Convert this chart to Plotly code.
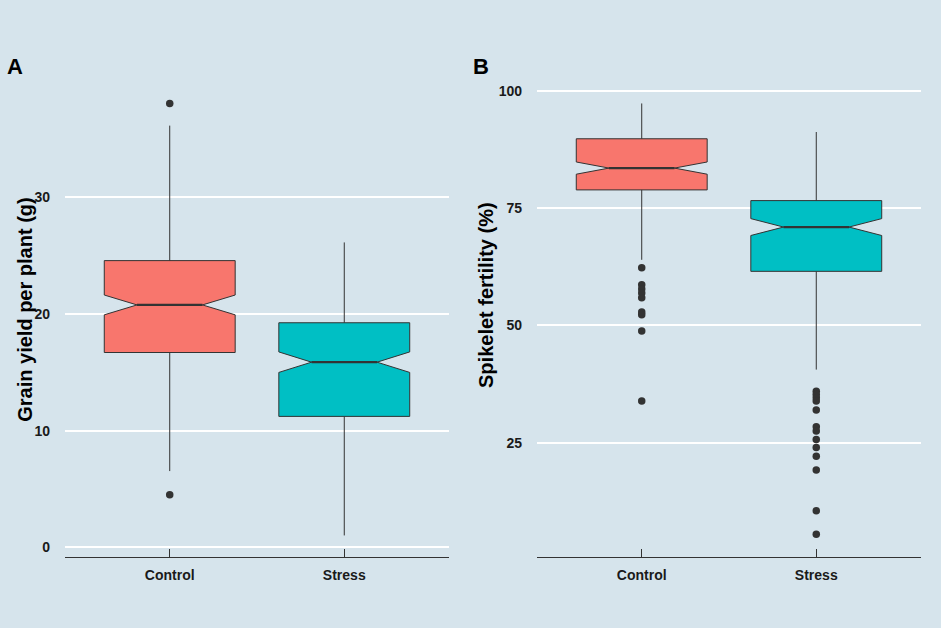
import plotly.graph_objects as go

# ---------------- data ----------------
groups = ["Control", "Stress"]

# Panel A: Grain yield per plant (g)
yield_q1 = [16.70, 11.22]
yield_median = [20.78, 15.87]
yield_q3 = [24.58, 19.25]
yield_lower = [6.53, 1.01]
yield_upper = [36.16, 26.14]
yield_notch = [0.85, 0.88]
yield_out_control = [38.06, 4.5]
yield_out_stress = []

# Panel B: Spikelet fertility (%)
fert_q1 = [78.9, 61.54]
fert_median = [83.55, 70.98]
fert_q3 = [89.8, 76.62]
fert_lower = [64.0, 40.6]
fert_upper = [97.33, 91.24]
fert_notch = [1.3, 1.8]
fert_out_control = [62.3, 58.7, 57.8, 56.9, 55.9, 52.9, 52.3, 48.8, 33.9]
fert_out_stress = [36.0, 35.3, 34.6, 33.9, 32.0, 28.4, 27.5, 25.7, 24.0, 22.1,
                   19.2, 10.5, 5.5]

yield_ticks = [0, 10, 20, 30]
fert_ticks = [25, 50, 75, 100]

# ---------------- style ----------------
colors = ["#F8766D", "#00BFC4"]
BG = "#d6e4ec"
DARK = "#333333"
BOX_W = 0.75
FONT = "Liberation Sans, Arial, sans-serif"

fig = go.Figure()


def add_panel(xa, ya, q1, med, q3, lo, hi, notch, outs):
    for i, g in enumerate(groups):
        fig.add_trace(go.Box(
            x=[i], q1=[q1[i]], median=[med[i]], q3=[q3[i]],
            lowerfence=[lo[i]], upperfence=[hi[i]], notchspan=[notch[i]],
            notched=True, notchwidth=0.25, width=BOX_W, whiskerwidth=0,
            fillcolor=colors[i], line=dict(color=DARK, width=1),
            xaxis=xa, yaxis=ya, showlegend=False, hoverinfo="skip",
        ))
        # thicker median line (ggplot style)
        half = BOX_W / 2 * 0.5
        fig.add_trace(go.Scatter(
            x=[i - half, i + half], y=[med[i], med[i]], mode="lines",
            line=dict(color=DARK, width=2.2), xaxis=xa, yaxis=ya,
            showlegend=False, hoverinfo="skip",
        ))
        if outs[i]:
            fig.add_trace(go.Scatter(
                x=[i] * len(outs[i]), y=outs[i], mode="markers",
                marker=dict(color=DARK, size=7.5), xaxis=xa, yaxis=ya,
                showlegend=False, hoverinfo="skip",
            ))


add_panel("x", "y", yield_q1, yield_median, yield_q3, yield_lower, yield_upper,
          yield_notch, [yield_out_control, yield_out_stress])
add_panel("x2", "y2", fert_q1, fert_median, fert_q3, fert_lower, fert_upper,
          fert_notch, [fert_out_control, fert_out_stress])

xcommon = dict(
    range=[-0.6, 1.6], tickvals=[0, 1], ticktext=groups,
    showgrid=False, zeroline=False, showline=True, linecolor=DARK, linewidth=1,
    ticks="inside", ticklen=8, tickcolor=DARK, tickwidth=1,
    tickfont=dict(family=FONT, size=14, color="#1a1a1a", weight="bold"),
    ticklabelstandoff=5, fixedrange=True,
)
ycommon = dict(
    showgrid=True, gridcolor="white", gridwidth=2, zeroline=False,
    showline=False, ticks="", ticklabelstandoff=14,
    tickfont=dict(family=FONT, size=14, color="#1a1a1a", weight="bold"),
    fixedrange=True,
)

fig.update_layout(
    width=941, height=628,
    paper_bgcolor=BG, plot_bgcolor=BG,
    margin=dict(l=65, r=20, t=82, b=71),
    showlegend=False,
    xaxis=dict(domain=[0, 0.4486], anchor="y", **xcommon),
    xaxis2=dict(domain=[0.5514, 1], anchor="y2", **xcommon),
    yaxis=dict(domain=[0, 1], anchor="x", range=[-0.84, 39.9],
               tickvals=yield_ticks, **ycommon),
    yaxis2=dict(domain=[0, 1], anchor="x2", range=[0.65, 101.9],
                tickvals=fert_ticks, **ycommon),
    annotations=[
        dict(text="A", xref="paper", yref="paper", x=-0.0585, y=1.0335,
             xanchor="center", yanchor="middle", showarrow=False,
             font=dict(family=FONT, size=22, color="black", weight="bold")),
        dict(text="B", xref="paper", yref="paper", x=0.4865, y=1.0335,
             xanchor="center", yanchor="middle", showarrow=False,
             font=dict(family=FONT, size=22, color="black", weight="bold")),
        dict(text="Grain yield per plant (g)", xref="paper", yref="paper",
             x=-0.047, y=0.52, textangle=-90, xanchor="center",
             yanchor="middle", showarrow=False,
             font=dict(family=FONT, size=20, color="black", weight="bold")),
        dict(text="Spikelet fertility (%)", xref="paper", yref="paper",
             x=0.4918, y=0.5516, textangle=-90, xanchor="center",
             yanchor="middle", showarrow=False,
             font=dict(family=FONT, size=20, color="black", weight="bold")),
    ],
)

fig.write_html(
    "out.html",
    config={"displayModeBar": False},
    post_script="document.body.style.margin='0';"
                "document.body.style.background='%s';" % BG,
)
